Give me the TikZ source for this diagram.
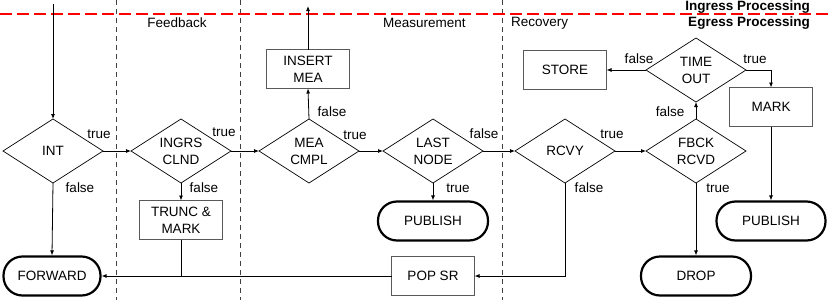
\documentclass[tikz,border=0pt]{standalone}
\usepackage{fontspec}
\setmainfont{Liberation Sans}
\usetikzlibrary{shapes.geometric,arrows.meta}
\begin{document}
\begin{tikzpicture}[x=1pt,y=-1pt, font=\fontsize{13.5}{17}\selectfont,
 dec/.style={diamond, draw=black, line width=0.7pt, aspect=1.5625, minimum width=100pt, minimum height=64pt, inner sep=0pt, outer sep=0pt, align=center},
 box/.style={rectangle, draw=black!65, line width=1pt, minimum width=83pt, minimum height=39pt, inner sep=0pt, outer sep=0pt, align=center},
 term/.style={rectangle, rounded corners=19pt, draw=black, line width=2.2pt, minimum height=39pt, inner sep=0pt, outer sep=1.1pt},
 arr/.style={draw=black, line width=0.8pt, -{Latex[length=5pt,width=4pt]}},
 ln/.style={draw=black, line width=0.8pt},
 lab/.style={inner sep=0pt},
 sep/.style={draw=black!75, line width=0.8pt, dash pattern=on 5pt off 4pt},
]
\useasboundingbox (0,0) rectangle (830,300);
% section separators
\draw[sep] (116,0) -- (116,300);
\draw[sep] (240,0) -- (240,300);
\draw[sep] (502,0) -- (502,300);
\draw[red, line width=1.6pt, dash pattern=on 12pt off 5pt] (0,14) -- (830,14);
\node[lab, font=\fontsize{13.5}{17}\selectfont\bfseries, anchor=east] (ing) at (810,7) {Ingress Processing};
\node[lab, font=\fontsize{13.5}{17}\selectfont\bfseries, anchor=east] (egr) at (810,23) {Egress Processing};
\node[lab] (sfb) at (177,23) {Feedback};
\node[lab, anchor=west] (sme) at (383,23) {Measurement};
\node[lab, anchor=west] (src) at (511,23) {Recovery};

% decisions
\node[dec] (int) at (53,151) {INT};
\node[dec] (ingrs) at (181,151) {INGRS\\CLND};
\node[dec] (mea) at (309,151) {MEA\\CMPL};
\node[dec] (last) at (433,151) {LAST\\NODE};
\node[dec] (rcvy) at (565,151) {RCVY};
\node[dec] (fbck) at (696,151) {FBCK\\RCVD};
\node[dec] (time) at (696,70) {TIME\\OUT};

% boxes
\node[box] (insert) at (308,69) {INSERT\\MEA};
\node[box] (store) at (565,70) {STORE};
\node[box] (mark) at (771,107) {MARK};
\node[box] (trunc) at (181,220) {TRUNC \&\\MARK};
\node[box] (pop) at (433,276) {POP SR};

% terminals
\node[term, minimum width=97pt] (fwd) at (52,276) {FORWARD};
\node[term, minimum width=110pt] (pub1) at (433,221) {PUBLISH};
\node[term, minimum width=109pt] (pub2) at (771,221) {PUBLISH};
\node[term, minimum width=110pt] (drop) at (696,276) {DROP};

\coordinate (intop) at (53,4);
\coordinate (outtop) at (308,6);

% connectors
\draw[arr] (intop) -- (int.north);
\draw[arr] (int.east) -- (ingrs.west);
\draw[arr] (int.south) -- (fwd.north);
\draw[arr] (ingrs.east) -- (mea.west);
\draw[arr] (ingrs.south) -- (trunc.north);
\draw[ln] (trunc.south) -- (trunc.south |- fwd.east);
\draw[arr] (mea.north) -- (insert.south);
\draw[arr] (insert.north) -- (outtop);
\draw[arr] (mea.east) -- (last.west);
\draw[arr] (last.east) -- (rcvy.west);
\draw[arr] (last.south) -- (pub1.north);
\draw[arr] (rcvy.east) -- (fbck.west);
\draw[arr] (rcvy.south) |- (pop.east);
\draw[arr] (pop.west) -- (fwd.east);
\draw[arr] (fbck.north) -- (time.south);
\draw[arr] (fbck.south) -- (drop.north);
\draw[arr] (time.west) -- (store.east);
\draw[arr] (time.east) -| (mark.north);
\draw[arr] (mark.south) -- (pub2.north);

% labels
\node[lab] (l1) at (99,134) {true};
\node[lab] (l2) at (80,188) {false};
\node[lab] (l3) at (224,132) {true};
\node[lab] (l4) at (204,188) {false};
\node[lab] (l5) at (332,112) {false};
\node[lab] (l6) at (355,135) {true};
\node[lab] (l7) at (484,134) {false};
\node[lab] (l8) at (458,188) {true};
\node[lab] (l9) at (612,134) {true};
\node[lab] (l10) at (589,188) {false};
\node[lab] (l11) at (670,112) {false};
\node[lab] (l12) at (718,188) {true};
\node[lab] (l13) at (639,59) {false};
\node[lab] (l14) at (755,59) {true};
\end{tikzpicture}
\end{document}
